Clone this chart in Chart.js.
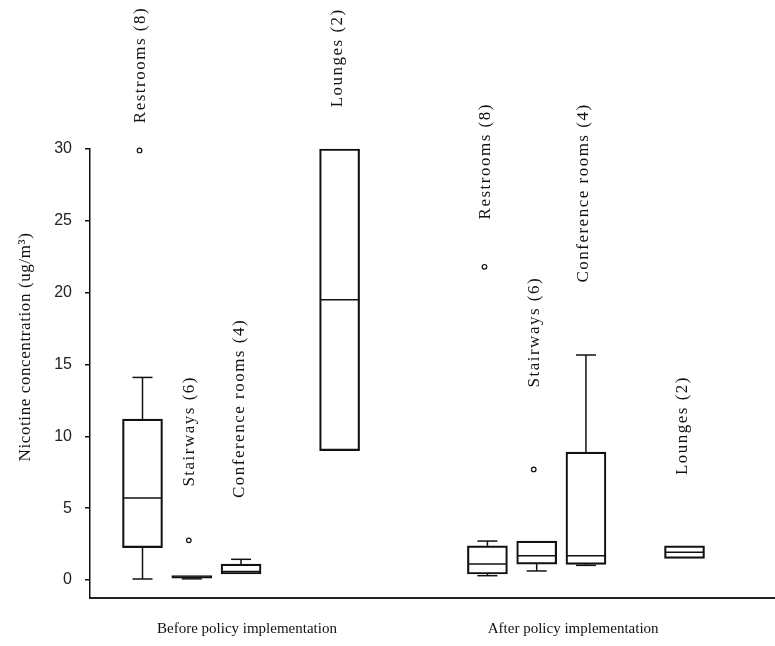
<!DOCTYPE html>
<html>
<head>
<meta charset="utf-8">
<script src="https://cdn.jsdelivr.net/npm/chart.js@4"></script>
<style>
  html, body { margin: 0; padding: 0; background: #fff; }
  #wrap { width: 775px; height: 646px; }
</style>
</head>
<body>
<div id="wrap"><canvas id="chart"></canvas></div>
<script>
// groups on the x axis and the room type of each box
const groups = ["Before policy implementation", "After policy implementation"];
const rooms = ["Restrooms (8)", "Stairways (6)", "Conference rooms (4)", "Lounges (2)",
               "Restrooms (8)", "Stairways (6)", "Conference rooms (4)", "Lounges (2)"];
// slot of each box along the x axis (gap slot before lounges, gap between groups)
const slots = [0, 1, 2, 4, 7, 8, 9, 11];

// box plot values, ug/m3 (before x4, then after x4)
const whiskerLow  = [0.07, 0.08, 0.42, 9.0, 0.30, 0.63, 1.02, 1.51];
const q1          = [2.25, 0.12, 0.42, 9.0, 0.42, 1.11, 1.09, 1.51];
const median      = [5.70, 0.20, 0.60, 19.5, 1.11, 1.69, 1.69, 1.93];
const q3          = [11.2, 0.30, 1.10, 30.0, 2.37, 2.71, 8.90, 2.37];
const whiskerHigh = [14.1, 0.30, 1.44, 30.0, 2.71, 2.71, 15.66, 2.37];
const outliers    = [[29.9], [2.76], [], [], [21.8], [7.7], [], []];

const yTicks = [0, 5, 10, 15, 20, 25, 30];

// where each rotated room label starts, in axis units
const labelStart = [31.8, 6.5, 5.7, 32.9, 25.1, 13.4, 20.7, 7.3];

const BOX_W = 40;
const INK = "#111";

const boxExtras = {
  id: "boxExtras",
  afterDatasetsDraw(chart) {
    const { ctx, scales: { x, y } } = chart;
    const half = BOX_W / 2;
    const line = (x1, y1, x2, y2) => {
      ctx.beginPath(); ctx.moveTo(x1, y1); ctx.lineTo(x2, y2); ctx.stroke();
    };
    ctx.save();
    ctx.strokeStyle = INK;
    ctx.lineWidth = 1.5;
    slots.forEach((s, i) => {
      const px = x.getPixelForValue(s);
      const my = y.getPixelForValue(median[i]);
      line(px - half + 1, my, px + half - 1, my);
      if (whiskerHigh[i] > q3[i]) {
        const wy = y.getPixelForValue(whiskerHigh[i]);
        line(px, y.getPixelForValue(q3[i]), px, wy);
        line(px - half / 2, wy, px + half / 2, wy);
      }
      if (whiskerLow[i] < q1[i]) {
        const wy = y.getPixelForValue(whiskerLow[i]);
        line(px, y.getPixelForValue(q1[i]), px, wy);
        line(px - half / 2, wy, px + half / 2, wy);
      }
    });
    ctx.restore();
  },
  afterDraw(chart) {
    const { ctx, scales: { x, y } } = chart;
    ctx.save();
    ctx.fillStyle = INK;
    ctx.font = "17px 'Liberation Serif', serif";
    ctx.letterSpacing = "1.5px";
    ctx.textAlign = "left";
    ctx.textBaseline = "middle";
    slots.forEach((s, i) => {
      ctx.save();
      ctx.translate(x.getPixelForValue(s) - 2, y.getPixelForValue(labelStart[i]));
      ctx.rotate(-Math.PI / 2);
      ctx.fillText(rooms[i], 0, 0);
      ctx.restore();
    });
    // y axis title
    ctx.letterSpacing = "0.6px";
    ctx.textAlign = "center";
    ctx.translate(26, 347);
    ctx.rotate(-Math.PI / 2);
    ctx.fillText("Nicotine concentration (ug/m\u00B3)", 0, 0);
    ctx.restore();
  }
};

new Chart(document.getElementById("chart"), {
  type: "bar",
  data: {
    datasets: [
      {
        type: "bar",
        data: slots.map((s, i) => ({ x: s, y: [q1[i], q3[i]] })),
        backgroundColor: "rgba(0,0,0,0)",
        borderColor: INK,
        borderWidth: 1.5,
        borderSkipped: false,
        barThickness: BOX_W,
        clip: false
      },
      {
        type: "scatter",
        data: slots.flatMap((s, i) => outliers[i].map(v => ({ x: s - 0.06, y: v }))),
        pointRadius: 2.3,
        pointBorderWidth: 1.2,
        pointBackgroundColor: "#fff",
        pointBorderColor: INK,
        clip: false
      }
    ]
  },
  options: {
    responsive: true,
    maintainAspectRatio: false,
    animation: false,
    layout: { autoPadding: false, padding: { top: 149, right: 0, bottom: 0, left: 0 } },
    plugins: { legend: { display: false }, tooltip: { enabled: false } },
    scales: {
      x: {
        type: "linear",
        offset: false,
        min: -1.0655,
        max: 12.8365,
        grid: { display: false, drawTicks: false },
        border: { display: true, color: "#222", width: 2 },
        afterBuildTicks: (scale) => { scale.ticks = [{ value: 2.12 }, { value: 8.74 }]; },
        afterFit: (scale) => { scale.height = 48; },
        ticks: {
          autoSkip: false,
          maxRotation: 0,
          padding: 22,
          color: INK,
          font: { family: "'Liberation Serif', serif", size: 15 },
          callback: (v, idx) => groups[idx]
        }
      },
      y: {
        min: -1.253,
        max: 30,
        grid: { display: true, drawOnChartArea: false, drawTicks: true, tickLength: 5, color: INK, lineWidth: 1.5 },
        border: { display: true, color: INK, width: 1.5 },
        afterBuildTicks: (scale) => { scale.ticks = yTicks.map(v => ({ value: v })); },
        afterFit: (scale) => { scale.width = 90; },
        ticks: {
          padding: 13,
          color: "#222",
          font: { family: "'Liberation Sans', sans-serif", size: 16 }
        }
      }
    }
  },
  plugins: [boxExtras]
});
</script>
</body>
</html>
